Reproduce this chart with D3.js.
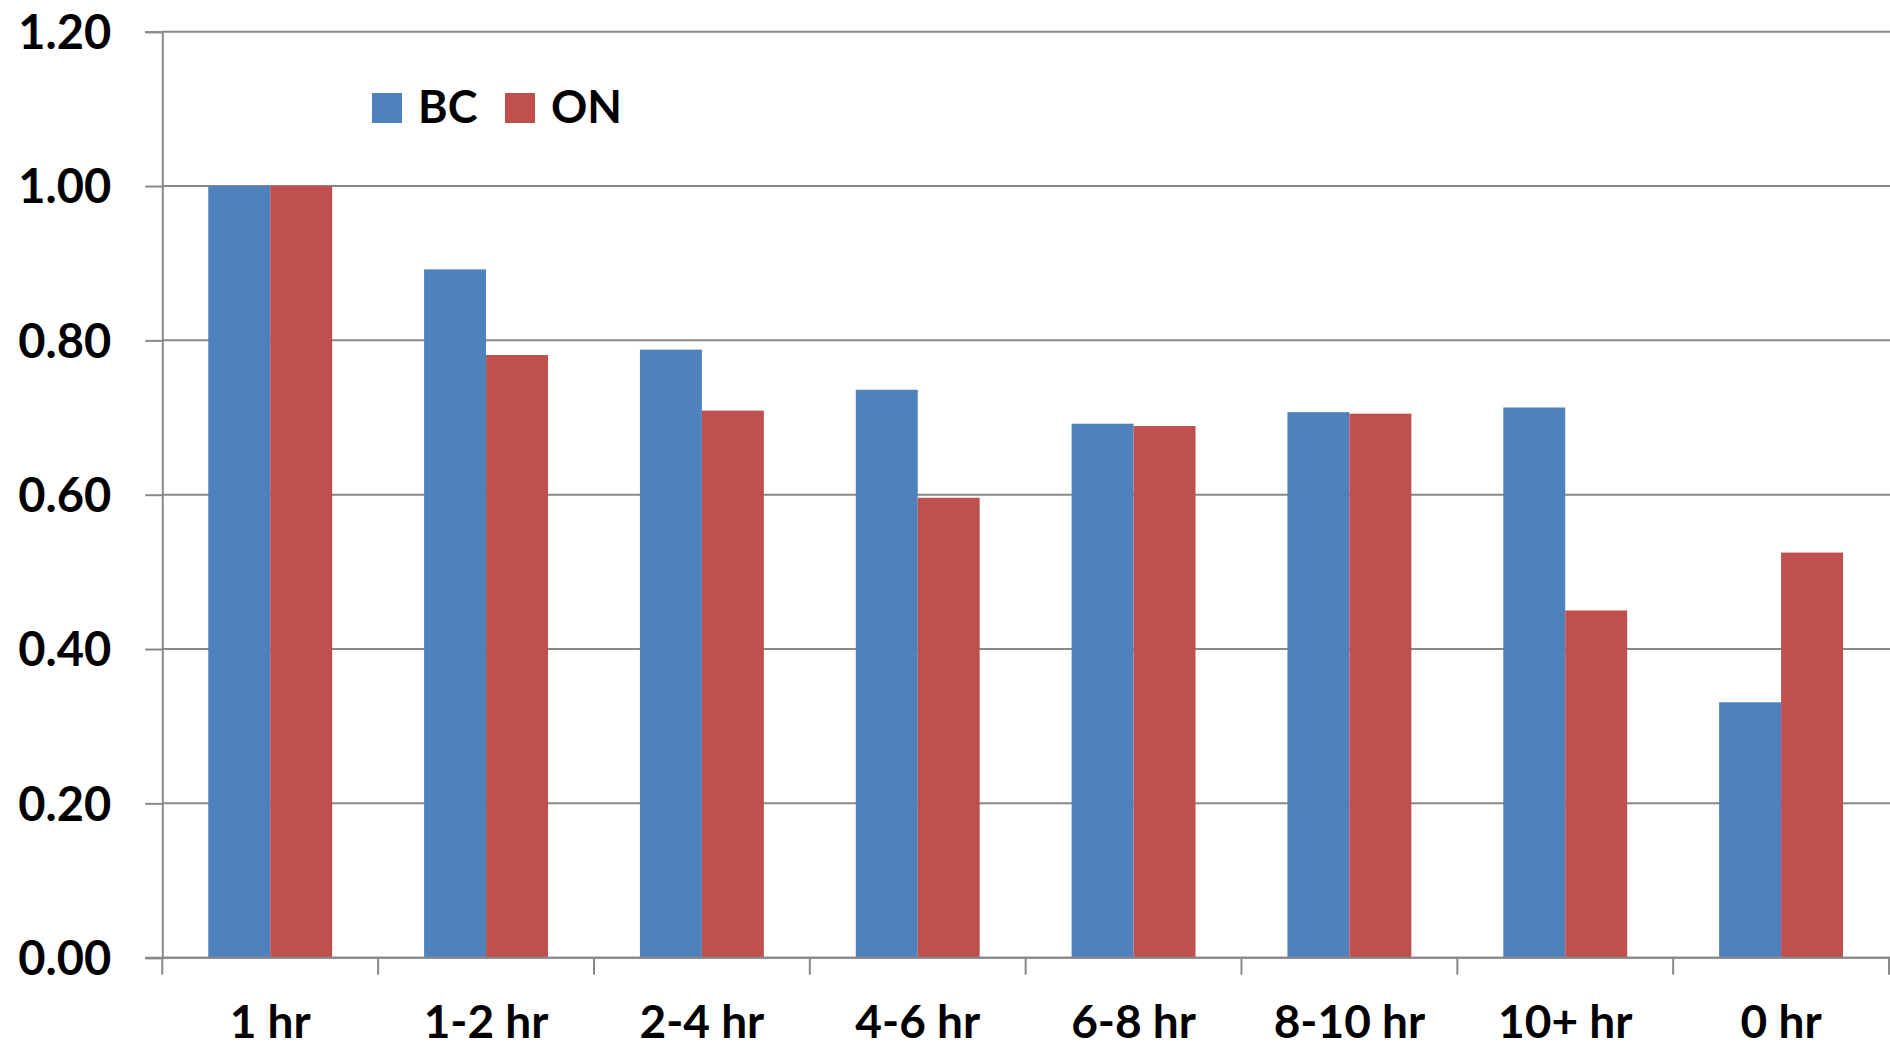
<!DOCTYPE html>
<html>
<head>
<meta charset="utf-8">
<script src="https://cdn.jsdelivr.net/npm/d3@7"></script>
<style>
  html, body { margin: 0; padding: 0; background: #fff; }
  svg { display: block; }
  text { font-family: Lato, "Open Sans", sans-serif; font-weight: 700; fill: #000; }
</style>
</head>
<body>
<svg id="chart" width="1890" height="1048"></svg>
<script>
// Relative duration categories and the two provincial series
const categories = ["1 hr", "1-2 hr", "2-4 hr", "4-6 hr", "6-8 hr", "8-10 hr", "10+ hr", "0 hr"];
const seriesNames = ["BC", "ON"];
const bcValues = [1.00, 0.892, 0.788, 0.736, 0.692, 0.707, 0.713, 0.331];
const onValues = [1.00, 0.781, 0.709, 0.596, 0.689, 0.705, 0.450, 0.525];
const yTicks = [0, 0.2, 0.4, 0.6, 0.8, 1.0, 1.2];
const colors = { BC: "#4F81BD", ON: "#C0504D" };

(function draw() {
  const svg = d3.select("#chart");
  const W = 1890;
  const plotLeft = 162.3, plotRight = 1889, plotTop = 31.7, plotBottom = 957.7;
  const gridColor = "#898989";

  const y = d3.scaleLinear().domain([0, 1.2]).range([plotBottom, plotTop]);
  const x0 = d3.scaleBand().domain(categories).range([plotLeft, plotRight]).paddingInner(0).paddingOuter(0);
  const x1 = d3.scaleBand().domain(seriesNames).range([0, x0.bandwidth()]).paddingInner(0).paddingOuter(0.742);

  // horizontal gridlines
  svg.append("g").selectAll("line").data(yTicks).join("line")
    .attr("x1", plotLeft).attr("x2", W)
    .attr("y1", d => y(d)).attr("y2", d => y(d))
    .attr("stroke", gridColor).attr("stroke-width", 2);

  // y axis with outward ticks and two-decimal labels
  const yAxis = svg.append("g")
    .attr("transform", `translate(${plotLeft},0)`)
    .call(d3.axisLeft(y).tickValues(yTicks).tickFormat(d3.format(".2f")).tickSize(17).tickPadding(34));
  yAxis.select(".domain").attr("stroke", gridColor).attr("stroke-width", 2);
  yAxis.selectAll(".tick line").attr("stroke", gridColor).attr("stroke-width", 2);
  yAxis.selectAll(".tick text")
    .attr("font-family", "Lato, 'Open Sans', sans-serif")
    .attr("font-weight", 700)
    .attr("font-size", 47)
    .attr("fill", "#000")
    .attr("dy", "0.36em");

  // bars
  const rows = categories.map((c, i) => ({ cat: c, BC: bcValues[i], ON: onValues[i] }));
  svg.append("g").selectAll("g").data(rows).join("g")
    .attr("transform", d => `translate(${x0(d.cat)},0)`)
    .selectAll("rect")
    .data(d => seriesNames.map(s => ({ s, v: d[s] })))
    .join("rect")
    .attr("x", d => x1(d.s))
    .attr("width", x1.bandwidth())
    .attr("y", d => y(d.v))
    .attr("height", d => y(0) - y(d.v))
    .attr("fill", d => colors[d.s]);

  // x axis baseline, boundary ticks and category labels
  svg.append("line")
    .attr("x1", plotLeft - 17).attr("x2", W)
    .attr("y1", y(0)).attr("y2", y(0))
    .attr("stroke", gridColor).attr("stroke-width", 2);
  const boundaries = categories.map(c => x0(c)).concat([x0(categories[categories.length - 1]) + x0.bandwidth()]);
  svg.append("g").selectAll("line").data(boundaries).join("line")
    .attr("x1", d => d).attr("x2", d => d)
    .attr("y1", y(0)).attr("y2", y(0) + 17)
    .attr("stroke", gridColor).attr("stroke-width", 2);
  svg.append("g").selectAll("text").data(categories).join("text")
    .attr("x", d => x0(d) + x0.bandwidth() / 2)
    .attr("y", 1038)
    .attr("text-anchor", "middle")
    .attr("font-size", 46)
    .text(d => d);

  // legend
  const legend = svg.append("g").attr("transform", "translate(372,93)");
  const legendX = [0, 133];
  const items = legend.selectAll("g").data(seriesNames).join("g")
    .attr("transform", (d, i) => `translate(${legendX[i]},0)`);
  items.append("rect").attr("width", 30).attr("height", 30).attr("fill", d => colors[d]);
  items.append("text").attr("x", 46).attr("y", 30).attr("font-size", 45).text(d => d);
})();
</script>
</body>
</html>
